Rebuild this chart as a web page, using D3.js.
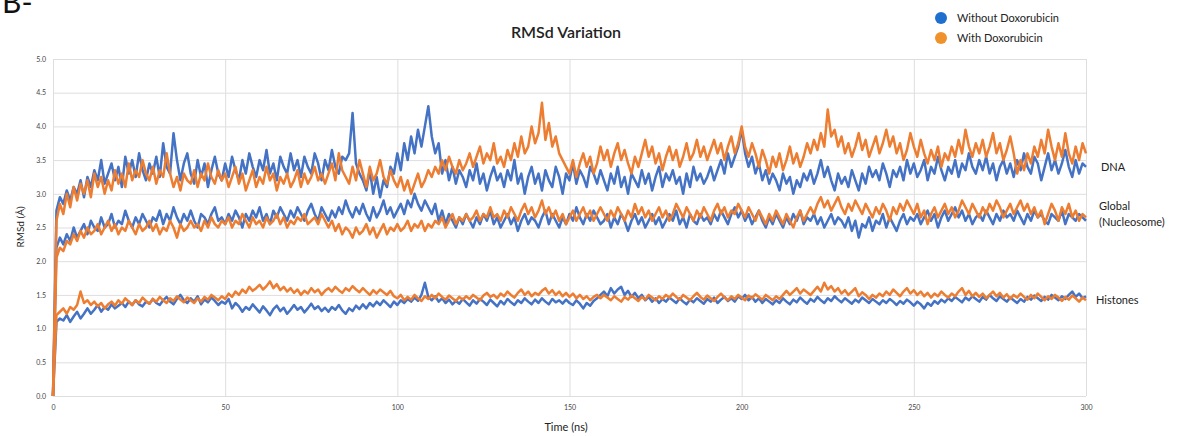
<!DOCTYPE html>
<html>
<head>
<meta charset="utf-8">
<script src="https://cdn.jsdelivr.net/npm/d3@7"></script>
<style>
  body { margin: 0; background: #fff; }
  text { font-family: Lato, "Open Sans", sans-serif; }
</style>
</head>
<body>
<div id="chart"></div>
<script>
// ---------------------------------- DATA ---------------------------------- //
// one sample per ns, t = 0..300

let x_ticks = [0, 50, 100, 150, 200, 250, 300];
let y_ticks = [0, 0.5, 1, 1.5, 2, 2.5, 3, 3.5, 4, 4.5, 5];
let legend_labels = ['Without Doxorubicin', 'With Doxorubicin'];

let dna_without = [
  0, 2.75, 2.95, 2.85, 3.05, 2.9, 3.1, 3.0, 3.2, 2.95,
  3.25, 3.1, 3.35, 3.2, 3.5, 3.15, 3.3, 3.45, 3.2, 3.4,
  3.1, 3.55, 3.3, 3.5, 3.25, 3.6, 3.35, 3.2, 3.45, 3.3,
  3.55, 3.25, 3.75, 3.4, 3.3, 3.9, 3.5, 3.2, 3.45, 3.6,
  3.3, 3.15, 3.5, 3.25, 3.45, 3.1, 3.35, 3.55, 3.3, 3.2,
  3.45, 3.25, 3.55, 3.35, 3.2, 3.5, 3.3, 3.6, 3.4, 3.25,
  3.5, 3.35, 3.65, 3.3, 3.45, 3.2, 3.55, 3.4, 3.3, 3.6,
  3.35, 3.5, 3.25, 3.55, 3.4, 3.3, 3.6, 3.45, 3.2, 3.5,
  3.35, 3.65, 3.4, 3.3, 3.55, 3.5, 3.6, 4.2, 3.45, 3.3,
  3.2, 3.05, 3.35, 3.0, 3.25, 2.95, 3.2, 3.1, 3.4, 3.3,
  3.6, 3.35, 3.75, 3.5, 3.85, 3.6, 3.95, 3.7, 4.0, 4.3,
  3.85, 3.6, 3.75, 3.3, 3.5, 3.2, 3.4, 3.15, 3.35, 3.25,
  3.1, 3.35, 3.2, 3.45, 3.15, 3.3, 3.05, 3.25, 3.4, 3.2,
  3.3, 3.1, 3.35, 3.2, 3.5, 3.15, 3.3, 3.0, 3.25, 3.4,
  3.15, 3.3, 3.05, 3.35, 3.2, 3.1, 3.4, 3.25, 3.0, 3.3,
  3.2, 3.45, 3.15, 3.35, 3.25, 3.1, 3.4, 3.3, 3.15, 3.35,
  3.2, 3.05, 3.3, 3.15, 3.4, 3.1, 3.25, 3.0, 3.3, 3.2,
  3.1, 3.35, 3.15, 3.3, 3.05, 3.25, 3.4, 3.1, 3.3, 3.2,
  3.35, 3.15, 3.25, 3.0, 3.3, 3.1, 3.4, 3.2, 3.3, 3.15,
  3.25, 3.4, 3.2, 3.35, 3.5, 3.3, 3.6, 3.4, 3.55, 3.7,
  3.95, 3.6, 3.4, 3.55, 3.3, 3.45, 3.2, 3.35, 3.15, 3.3,
  3.2, 3.05, 3.3, 3.15, 3.25, 3.0, 3.2, 3.1, 3.3, 3.2,
  3.35, 3.15, 3.3, 3.5, 3.25, 3.4, 3.2, 3.05, 3.3, 3.15,
  3.25, 3.1, 3.35, 3.2, 3.05, 3.3, 3.15, 3.4, 3.25, 3.35,
  3.2, 3.45, 3.3, 3.1, 3.35, 3.25, 3.4, 3.2, 3.5, 3.3,
  3.45, 3.25, 3.35, 3.5, 3.2, 3.4, 3.3, 3.55, 3.35, 3.2,
  3.4, 3.3, 3.5, 3.25, 3.45, 3.35, 3.6, 3.4, 3.3, 3.5,
  3.35, 3.55, 3.3, 3.45, 3.2, 3.4, 3.5, 3.3, 3.45, 3.25,
  3.5, 3.35, 3.6, 3.4, 3.3, 3.55, 3.45, 3.2, 3.4, 3.6,
  3.35, 3.5, 3.3, 3.45, 3.65, 3.4, 3.25, 3.5, 3.3, 3.45,
  3.4
];

let dna_with = [
  0, 2.6, 2.85, 2.7, 3.0, 2.8, 3.1, 2.9, 3.15, 3.0,
  3.2, 2.95, 3.3, 3.1, 3.25, 3.0, 3.2, 3.05, 3.35, 3.15,
  3.3, 3.1, 3.45, 3.2, 3.35, 3.25, 3.5, 3.3, 3.2, 3.4,
  3.15, 3.35, 3.25, 3.6, 3.3, 3.1, 3.25, 3.05, 3.3, 3.2,
  3.15, 3.35, 3.1, 3.3, 3.2, 3.45, 3.25, 3.15, 3.35, 3.2,
  3.3, 3.1, 3.25, 3.4, 3.15, 3.3, 3.05, 3.2, 3.35, 3.1,
  3.25, 3.15, 3.4, 3.2, 3.3, 3.05, 3.25, 3.15, 3.3, 3.1,
  3.2, 3.35, 3.1, 3.3, 3.15, 3.25, 3.4, 3.2, 3.3, 3.15,
  3.3, 3.45, 3.2, 3.6, 3.35, 3.25, 3.15, 3.4, 3.2, 3.5,
  3.3, 3.1, 3.4, 3.2, 3.3, 3.5, 3.25, 3.15, 3.35, 3.2,
  3.1, 3.25, 3.05, 3.2, 3.0, 3.15, 3.3, 3.1, 3.2, 3.35,
  3.25, 3.4, 3.3, 3.5, 3.35, 3.55, 3.4, 3.3, 3.5, 3.35,
  3.45, 3.6, 3.4, 3.55, 3.7, 3.45, 3.6, 3.5, 3.75, 3.45,
  3.55, 3.4, 3.65, 3.5, 3.75, 3.55, 3.85, 3.6, 3.7, 4.0,
  3.75, 3.9, 4.35, 3.8, 4.05, 3.7, 3.85, 3.6, 3.5, 3.4,
  3.3, 3.5, 3.25, 3.45, 3.6, 3.4, 3.55, 3.3, 3.45, 3.7,
  3.5, 3.65, 3.4, 3.6, 3.75, 3.5, 3.65, 3.45, 3.3, 3.55,
  3.4, 3.6, 3.8, 3.55, 3.7, 3.45, 3.6, 3.35, 3.55, 3.7,
  3.5, 3.65, 3.4, 3.55, 3.75, 3.5, 3.6, 3.8, 3.55, 3.7,
  3.5, 3.65, 3.8, 3.6, 3.75, 3.5, 3.7, 3.85, 3.6, 3.75,
  4.0, 3.7, 3.55, 3.75, 3.6, 3.4, 3.65, 3.5, 3.3, 3.55,
  3.4, 3.6, 3.35, 3.5, 3.7, 3.45, 3.6, 3.4, 3.55, 3.75,
  3.6, 3.8, 3.65, 3.9, 3.7, 4.25, 3.85, 3.95, 3.7, 3.85,
  3.6, 3.75, 3.55, 3.7, 3.9, 3.65, 3.8, 3.55, 3.7, 3.85,
  3.6, 3.75, 3.95, 3.7, 3.85, 3.6, 3.75, 3.5, 3.65, 3.9,
  3.7, 3.55, 3.8, 3.6, 3.45, 3.65, 3.5, 3.7, 3.4, 3.6,
  3.5, 3.7, 3.55, 3.8, 3.6, 3.95, 3.7, 3.55, 3.75, 3.6,
  3.8, 3.55, 3.7, 3.9, 3.6, 3.75, 3.5, 3.65, 3.85, 3.6,
  3.3, 3.5, 3.35, 3.6, 3.45, 3.7, 3.55, 3.8, 3.6, 3.95,
  3.7, 3.5, 3.75, 3.55, 3.9, 3.6, 3.45, 3.7, 3.5, 3.75,
  3.6
];

let global_without = [
  0, 2.2, 2.35, 2.25, 2.4, 2.3, 2.5, 2.35, 2.45, 2.55,
  2.4, 2.6, 2.5, 2.45, 2.65, 2.5, 2.55, 2.7, 2.5, 2.6,
  2.55, 2.75, 2.6, 2.5, 2.65, 2.55, 2.7, 2.6, 2.5, 2.65,
  2.6, 2.75, 2.55, 2.7, 2.6, 2.8, 2.65, 2.55, 2.7, 2.6,
  2.75, 2.6, 2.5, 2.7, 2.65, 2.55, 2.7, 2.8, 2.6, 2.65,
  2.55, 2.7, 2.6, 2.75, 2.65, 2.5, 2.7, 2.6, 2.75, 2.65,
  2.8, 2.6, 2.7, 2.55, 2.75, 2.65, 2.8, 2.7, 2.6, 2.75,
  2.65, 2.8, 2.7, 2.6, 2.75, 2.85, 2.7, 2.6, 2.8, 2.7,
  2.6, 2.75, 2.65, 2.8, 2.7, 2.9, 2.75, 2.65, 2.8, 2.7,
  2.85, 2.7, 2.6, 2.8, 2.65, 2.75, 2.9, 2.7, 2.8, 2.65,
  2.75, 2.85, 2.7, 2.9, 2.8, 3.0, 2.85, 2.75, 2.9, 2.8,
  2.7, 2.85, 2.6, 2.75, 2.55, 2.7, 2.6, 2.5, 2.65, 2.55,
  2.7, 2.6, 2.5, 2.65, 2.55, 2.7, 2.6, 2.75, 2.55, 2.65,
  2.5, 2.6, 2.7, 2.55, 2.65, 2.45, 2.6, 2.7, 2.55, 2.65,
  2.6, 2.5, 2.65, 2.75, 2.55, 2.7, 2.6, 2.5, 2.65, 2.55,
  2.7, 2.6, 2.8, 2.65, 2.55, 2.7, 2.6, 2.75, 2.65, 2.55,
  2.6, 2.7, 2.5, 2.65, 2.55, 2.7, 2.6, 2.45, 2.6, 2.7,
  2.55, 2.65, 2.5, 2.6, 2.7, 2.55, 2.65, 2.5, 2.6, 2.7,
  2.6, 2.75, 2.55, 2.65, 2.5, 2.7, 2.6, 2.55, 2.7, 2.6,
  2.65, 2.55, 2.7, 2.6, 2.75, 2.65, 2.55, 2.7, 2.8, 2.65,
  2.75, 2.6, 2.7, 2.55, 2.65, 2.75, 2.6, 2.5, 2.65, 2.55,
  2.7, 2.6, 2.5, 2.65, 2.55, 2.7, 2.6, 2.75, 2.55, 2.65,
  2.6, 2.7, 2.55, 2.65, 2.5, 2.6, 2.7, 2.55, 2.65, 2.6,
  2.5, 2.65, 2.45, 2.6, 2.35, 2.55, 2.5, 2.65, 2.45, 2.6,
  2.55, 2.7, 2.5, 2.65, 2.55, 2.45, 2.6, 2.7, 2.55, 2.65,
  2.6, 2.7, 2.55, 2.65, 2.75, 2.6, 2.7, 2.5, 2.65, 2.75,
  2.6, 2.7, 2.8, 2.65, 2.75, 2.6, 2.7, 2.55, 2.65, 2.7,
  2.6, 2.75, 2.65, 2.55, 2.7, 2.6, 2.75, 2.65, 2.7, 2.6,
  2.75, 2.65, 2.55, 2.7, 2.6, 2.75, 2.65, 2.7, 2.6, 2.55,
  2.7, 2.65, 2.6, 2.75, 2.55, 2.7, 2.65, 2.6, 2.7, 2.65,
  2.6
];

let global_with = [
  0, 2.05, 2.2, 2.15, 2.3, 2.25, 2.4, 2.3, 2.45, 2.35,
  2.5, 2.4, 2.45, 2.55, 2.4, 2.5, 2.6, 2.45, 2.55, 2.4,
  2.5, 2.45, 2.6, 2.5, 2.4, 2.55, 2.45, 2.5, 2.6, 2.45,
  2.55, 2.4, 2.5, 2.45, 2.6, 2.5, 2.35, 2.55, 2.45, 2.5,
  2.6, 2.5, 2.55, 2.45, 2.6, 2.5, 2.65, 2.55, 2.5, 2.6,
  2.55, 2.65, 2.5, 2.6, 2.55, 2.7, 2.6, 2.5, 2.65, 2.55,
  2.6, 2.5, 2.65, 2.55, 2.6, 2.7, 2.55, 2.65, 2.5, 2.6,
  2.55, 2.65, 2.6, 2.7, 2.55, 2.6, 2.65, 2.55, 2.7, 2.6,
  2.5, 2.6, 2.45, 2.55, 2.4, 2.5, 2.45, 2.35, 2.5, 2.4,
  2.45, 2.55, 2.4, 2.5, 2.35, 2.45, 2.55, 2.4, 2.5, 2.45,
  2.55, 2.45, 2.5, 2.6, 2.45, 2.55, 2.5, 2.6, 2.45, 2.55,
  2.5, 2.6, 2.55, 2.65, 2.5, 2.6, 2.7, 2.55, 2.65, 2.6,
  2.7, 2.6, 2.65, 2.75, 2.6, 2.7, 2.65, 2.8, 2.65, 2.7,
  2.6, 2.75, 2.65, 2.8, 2.7, 2.6, 2.75, 2.85, 2.7, 2.8,
  2.65, 2.75, 2.9, 2.7, 2.8, 2.65, 2.75, 2.6, 2.7, 2.55,
  2.65, 2.75, 2.6, 2.7, 2.8, 2.65, 2.75, 2.6, 2.7, 2.8,
  2.7, 2.6, 2.75, 2.65, 2.8, 2.7, 2.6, 2.75, 2.65, 2.85,
  2.7, 2.8, 2.65, 2.75, 2.6, 2.7, 2.8, 2.65, 2.75, 2.6,
  2.7, 2.85, 2.75, 2.65, 2.8, 2.7, 2.6, 2.75, 2.65, 2.8,
  2.7, 2.6, 2.75, 2.85, 2.7, 2.8, 2.65, 2.75, 2.7, 2.85,
  2.75, 2.65, 2.8, 2.7, 2.6, 2.75, 2.65, 2.55, 2.7, 2.6,
  2.75, 2.65, 2.55, 2.7, 2.6, 2.5, 2.65, 2.75, 2.6, 2.7,
  2.8, 2.7, 2.85, 2.95, 2.8, 2.9, 2.75, 2.85, 2.95, 2.8,
  2.7, 2.85, 2.75, 2.9, 2.8, 2.7, 2.85, 2.75, 2.65, 2.8,
  2.7, 2.85, 2.75, 2.6, 2.8, 2.7, 2.85, 2.75, 2.9, 2.8,
  2.7, 2.85, 2.65, 2.75, 2.55, 2.7, 2.8, 2.65, 2.75, 2.85,
  2.7, 2.8, 2.65, 2.75, 2.9, 2.8, 2.7, 2.85, 2.75, 2.65,
  2.8, 2.7, 2.85, 2.75, 2.9, 2.8, 2.65, 2.75, 2.85, 2.7,
  2.8, 2.9, 2.75, 2.85, 2.7, 2.8, 2.65, 2.75, 2.55, 2.7,
  2.85, 2.75, 2.6, 2.8, 2.7, 2.85, 2.65, 2.75, 2.6, 2.7,
  2.65
];

let histones_without = [
  0, 1.1, 1.15, 1.12, 1.2, 1.1, 1.18, 1.25, 1.15, 1.22,
  1.3, 1.22, 1.28, 1.35, 1.25, 1.32, 1.28, 1.36, 1.3, 1.34,
  1.38, 1.32, 1.4, 1.35, 1.42, 1.36, 1.33, 1.4, 1.37, 1.44,
  1.38, 1.35, 1.42, 1.47, 1.4, 1.36, 1.44, 1.5, 1.42, 1.38,
  1.45, 1.4, 1.48, 1.36, 1.43, 1.39, 1.46, 1.41, 1.35, 1.4,
  1.37, 1.44, 1.3, 1.38, 1.33, 1.25, 1.32, 1.28, 1.36, 1.3,
  1.24, 1.33, 1.27, 1.2, 1.29, 1.34, 1.26, 1.31, 1.22, 1.28,
  1.35, 1.28, 1.32, 1.24, 1.3, 1.37, 1.29, 1.33, 1.26, 1.31,
  1.25, 1.32, 1.28, 1.35, 1.27, 1.22, 1.3, 1.26, 1.34, 1.29,
  1.36, 1.3, 1.38, 1.33, 1.4, 1.35, 1.42, 1.37, 1.32, 1.4,
  1.35, 1.42, 1.38, 1.44, 1.4, 1.46, 1.41, 1.5, 1.68, 1.47,
  1.42, 1.48, 1.4, 1.45, 1.38, 1.43, 1.36, 1.41, 1.37, 1.44,
  1.39, 1.34, 1.42, 1.37, 1.44, 1.4, 1.35, 1.43, 1.38, 1.33,
  1.41, 1.36, 1.44, 1.39, 1.35, 1.42, 1.38, 1.45, 1.4, 1.36,
  1.43, 1.38, 1.45, 1.4, 1.36, 1.44, 1.39, 1.42, 1.37, 1.43,
  1.38, 1.35, 1.42, 1.37, 1.3, 1.38, 1.34, 1.41, 1.45, 1.5,
  1.55, 1.48, 1.6, 1.52, 1.58, 1.62, 1.5, 1.56, 1.47, 1.53,
  1.45, 1.5, 1.42, 1.47, 1.4, 1.45, 1.38, 1.44, 1.4, 1.46,
  1.42, 1.38, 1.45, 1.4, 1.36, 1.43, 1.39, 1.45, 1.41, 1.37,
  1.44, 1.4, 1.46, 1.38, 1.43, 1.47, 1.41, 1.45, 1.4, 1.48,
  1.44, 1.5, 1.42, 1.47, 1.4, 1.45, 1.38, 1.44, 1.4, 1.36,
  1.42, 1.38, 1.45, 1.4, 1.36, 1.43, 1.39, 1.46, 1.41, 1.37,
  1.44, 1.4, 1.47, 1.42, 1.38, 1.45, 1.41, 1.48, 1.43, 1.39,
  1.45, 1.41, 1.37, 1.43, 1.39, 1.46, 1.42, 1.38, 1.44, 1.4,
  1.36, 1.42, 1.38, 1.44, 1.4, 1.35, 1.41, 1.37, 1.43, 1.39,
  1.34, 1.4, 1.36, 1.3, 1.38, 1.34, 1.41, 1.37, 1.43, 1.39,
  1.45, 1.41, 1.47, 1.43, 1.39, 1.46, 1.42, 1.48, 1.44, 1.4,
  1.47, 1.43, 1.5, 1.45, 1.41, 1.48, 1.44, 1.4, 1.46, 1.42,
  1.38, 1.44, 1.4, 1.47, 1.43, 1.49, 1.45, 1.41, 1.47, 1.43,
  1.5, 1.46, 1.42, 1.48, 1.44, 1.5, 1.55, 1.47, 1.52, 1.45,
  1.48
];

let histones_with = [
  0, 1.2, 1.25, 1.3, 1.22, 1.32, 1.28, 1.35, 1.55, 1.38,
  1.42, 1.35, 1.4, 1.33, 1.38, 1.3, 1.36, 1.4, 1.34, 1.42,
  1.37, 1.45, 1.4, 1.35, 1.42, 1.38, 1.46, 1.41, 1.37, 1.44,
  1.4, 1.47, 1.42, 1.38, 1.45, 1.41, 1.48, 1.43, 1.39, 1.46,
  1.42, 1.38, 1.45, 1.4, 1.47, 1.43, 1.5, 1.46, 1.42, 1.48,
  1.44, 1.52, 1.47, 1.55, 1.5, 1.58, 1.53, 1.62, 1.56, 1.6,
  1.65, 1.58, 1.63, 1.7, 1.6, 1.66, 1.57, 1.62, 1.55, 1.6,
  1.53, 1.58, 1.5, 1.56, 1.52, 1.6, 1.54, 1.58, 1.5, 1.56,
  1.6, 1.55, 1.62, 1.57, 1.53, 1.6, 1.56, 1.63, 1.58, 1.54,
  1.6, 1.55, 1.5, 1.57, 1.52, 1.58, 1.54, 1.5, 1.56, 1.48,
  1.45, 1.5, 1.42, 1.47, 1.43, 1.5, 1.45, 1.41, 1.48, 1.44,
  1.5, 1.45, 1.52, 1.47, 1.43, 1.49, 1.45, 1.41, 1.47, 1.43,
  1.48, 1.44, 1.5, 1.46, 1.42, 1.49, 1.53, 1.47, 1.5, 1.45,
  1.52, 1.48, 1.55, 1.5, 1.46, 1.53, 1.58, 1.5, 1.55, 1.48,
  1.53, 1.5, 1.56, 1.6, 1.52, 1.57, 1.5, 1.55, 1.48, 1.53,
  1.47, 1.52, 1.45, 1.5, 1.44, 1.48, 1.42, 1.47, 1.5, 1.45,
  1.5, 1.46, 1.42, 1.48, 1.44, 1.4, 1.47, 1.43, 1.49, 1.45,
  1.41, 1.47, 1.43, 1.5, 1.46, 1.42, 1.48, 1.44, 1.5, 1.46,
  1.52, 1.47, 1.43, 1.5, 1.46, 1.42, 1.48, 1.53, 1.47, 1.43,
  1.49, 1.45, 1.41, 1.47, 1.52, 1.46, 1.42, 1.48, 1.44, 1.5,
  1.46, 1.42, 1.49, 1.45, 1.51, 1.47, 1.43, 1.5, 1.46, 1.42,
  1.48, 1.44, 1.5, 1.56, 1.5, 1.55, 1.6, 1.52, 1.58, 1.54,
  1.5, 1.56, 1.62, 1.55, 1.68, 1.58, 1.63, 1.55, 1.6, 1.52,
  1.57, 1.5, 1.55, 1.6, 1.48, 1.54, 1.5, 1.44, 1.5, 1.46,
  1.52, 1.48, 1.55, 1.5, 1.58, 1.53, 1.48, 1.55, 1.6, 1.52,
  1.57, 1.5, 1.55, 1.48, 1.53, 1.46, 1.52, 1.48, 1.55, 1.5,
  1.46, 1.52, 1.48, 1.55, 1.6, 1.5, 1.56, 1.48, 1.53, 1.47,
  1.52, 1.45, 1.5, 1.55, 1.48, 1.53, 1.46, 1.51, 1.44, 1.5,
  1.46, 1.52, 1.47, 1.43, 1.5, 1.45, 1.52, 1.47, 1.42, 1.48,
  1.44, 1.5, 1.46, 1.41, 1.47, 1.43, 1.49, 1.45, 1.4, 1.46,
  1.42
];

// ---------------------------------- SETTINGS ---------------------------------- //

let img_width = 1179;
let img_height = 436;
let plot_left = 53;
let plot_right = 1086;
let plot_top = 59;
let plot_bottom = 396;
let blue_color = '#4472C4';
let orange_color = '#ED7D31';
let grid_color = '#dedede';
let tick_color = '#444';
let text_color = '#222';

// ---------------------------------- CORE IMAGE ---------------------------------- //

let svg = d3.select('#chart')
  .append('svg')
  .attr('width', img_width)
  .attr('height', img_height);

let x = d3.scaleLinear().domain([0, 300]).range([plot_left, plot_right]);
let y = d3.scaleLinear().domain([0, 5]).range([plot_bottom, plot_top]);

// grid + y axis
let y_axis = svg.append('g')
  .attr('transform', `translate(${plot_left},0)`)
  .call(d3.axisLeft(y).tickValues(y_ticks).tickFormat(d3.format('.1f'))
    .tickSize(-(plot_right - plot_left)).tickPadding(7));
y_axis.select('.domain').remove();
y_axis.selectAll('line').attr('stroke', grid_color);
y_axis.selectAll('text').attr('fill', tick_color).style('font-size', '7px');

// grid + x axis
let x_axis = svg.append('g')
  .attr('transform', `translate(0,${plot_bottom})`)
  .call(d3.axisBottom(x).tickValues(x_ticks)
    .tickSize(-(plot_bottom - plot_top)).tickPadding(9));
x_axis.select('.domain').remove();
x_axis.selectAll('line').attr('stroke', grid_color);
x_axis.selectAll('text').attr('fill', tick_color).style('font-size', '7px');

// ---------------------------------- LINES ---------------------------------- //

let line = d3.line()
  .x((d, i) => x(i))
  .y(d => y(d));

let series = [
  { values: dna_without, color: blue_color },
  { values: global_without, color: blue_color },
  { values: histones_without, color: blue_color },
  { values: dna_with, color: orange_color },
  { values: global_with, color: orange_color },
  { values: histones_with, color: orange_color }
];

svg.append('g')
  .selectAll('path')
  .data(series)
  .enter()
  .append('path')
  .attr('d', d => line(d.values))
  .attr('fill', 'none')
  .attr('stroke', d => d.color)
  .attr('stroke-width', 2.5)
  .attr('stroke-linejoin', 'round');

// ---------------------------------- TEXT ---------------------------------- //

// panel letter, cropped at the top edge as in the source figure
svg.append('text')
  .attr('x', 2).attr('y', 13)
  .attr('fill', '#111')
  .style('font-size', '30px')
  .text('B-');

svg.append('text')
  .attr('x', 566).attr('y', 38)
  .attr('text-anchor', 'middle')
  .attr('fill', text_color)
  .style('font-size', '16px')
  .style('font-weight', '600')
  .text('RMSd Variation');

let legend = svg.append('g')
  .selectAll('g')
  .data(legend_labels)
  .enter()
  .append('g')
  .attr('transform', (d, i) => `translate(941,${18 + i * 20})`);
legend.append('circle')
  .attr('r', 6)
  .attr('fill', (d, i) => i === 0 ? '#1F6FCF' : '#F0922B');
legend.append('text')
  .attr('x', 16).attr('y', 4)
  .attr('fill', text_color)
  .style('font-size', '11px')
  .text(d => d);

svg.append('text')
  .attr('x', 1101).attr('y', 171)
  .attr('fill', text_color)
  .style('font-size', '11px')
  .text('DNA');
svg.append('text')
  .attr('x', 1099).attr('y', 210)
  .attr('fill', text_color)
  .style('font-size', '11px')
  .text('Global');
svg.append('text')
  .attr('x', 1099).attr('y', 226)
  .attr('fill', text_color)
  .style('font-size', '11px')
  .text('(Nucleosome)');
svg.append('text')
  .attr('x', 1096).attr('y', 304)
  .attr('fill', text_color)
  .style('font-size', '11px')
  .text('Histones');

svg.append('text')
  .attr('transform', 'translate(24,227) rotate(-90)')
  .attr('text-anchor', 'middle')
  .attr('fill', text_color)
  .style('font-size', '10px')
  .text('RMSd (Å)');

svg.append('text')
  .attr('x', 566).attr('y', 431)
  .attr('text-anchor', 'middle')
  .attr('fill', text_color)
  .style('font-size', '11px')
  .text('Time (ns)');
</script>
</body>
</html>
